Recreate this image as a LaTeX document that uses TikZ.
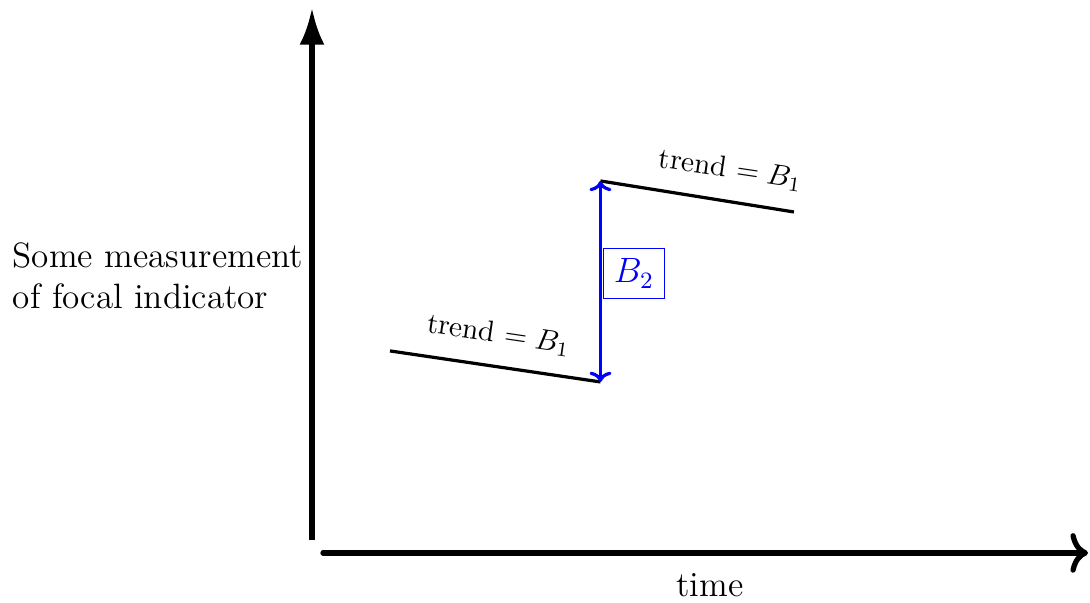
\documentclass[tikz,border=0pt]{standalone}
\usepackage{amsmath}
\usepackage{tikz}
\usetikzlibrary{arrows.meta,positioning,calc}

\begin{document}
\begin{tikzpicture}[
  axisline/.style={line width=1.8pt},
  trendline/.style={line width=1.1pt},
  trendlabel/.style={font=\normalsize,inner sep=1pt},
  jump/.style={line width=1.1pt,blue,{To[length=3.5pt,width=7.5pt]}-{To[length=3.5pt,width=7.5pt]}}]
  \useasboundingbox (0,0) rectangle (13.07,7.23);
  % axes
  \coordinate(Ybot) at(3.741,0.755);
  \coordinate(Ytop) at(3.741,7.134);
  \coordinate(Xl) at(3.873,0.600);
  \coordinate(Xr) at(13.046,0.600);
  \draw[axisline,-{Latex[length=12.5pt,width=8.5pt]}](Ybot)--(Ytop);
  \draw[axisline,line cap=round,-{To[length=6pt,width=13.5pt]}](Xl)--(Xr);
  \node[font=\large,align=left,anchor=west](ylab) at(0.03,3.921){Some measurement\\of focal indicator};
  \node[font=\large,anchor=base](xlab) at(8.513,0.072){time};
  % trends
  \coordinate(A) at(4.676,3.022);
  \coordinate(B) at(7.200,2.650);
  \coordinate(C) at(7.200,5.060);
  \coordinate(D) at(9.520,4.688);
  \draw[trendline](A)--(B);
  \draw[trendline](C)--(D);
  \node[trendlabel,rotate=-8.4](lowlab) at(5.980,3.215){trend $= B_1$};
  \node[trendlabel,rotate=-8.4](uplab) at(8.760,5.192){trend $= B_1$};
  % jump
  \draw[jump](B)--(C);
  \node[draw,blue,font=\large,inner sep=3.5pt](jmp) at(7.602,3.951){$B_2$};
\end{tikzpicture}
\end{document}
